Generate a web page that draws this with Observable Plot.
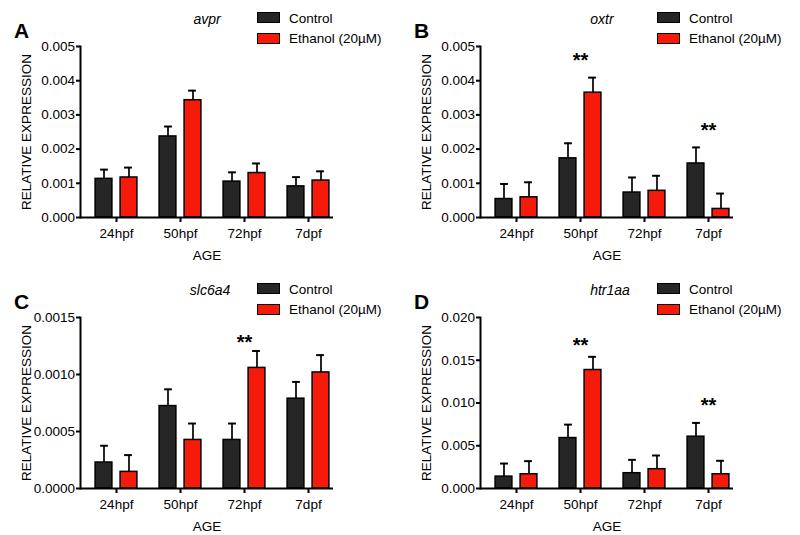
<!DOCTYPE html>
<html><head><meta charset="utf-8">
<script src="https://cdn.jsdelivr.net/npm/d3@7"></script>
<script src="https://cdn.jsdelivr.net/npm/@observablehq/plot@0.6"></script>
<style>
body{margin:0;background:#fff;}
#wrap{position:relative;width:800px;height:535px;font-family:"Liberation Sans",Arial,Helvetica,sans-serif;color:#000;overflow:hidden;}
.panel{position:absolute;width:400px;height:265px;}
.panel svg{position:absolute;left:0;top:0;overflow:visible;}
.letter{position:absolute;font-weight:bold;font-size:21px;line-height:21px;left:14px;top:20px;}
.gene{position:absolute;font-style:italic;font-size:14px;line-height:14px;top:12px;width:100px;text-align:center;}
.sw{position:absolute;left:257px;width:21px;height:9px;border:1.5px solid #000;}
.lt{position:absolute;left:289px;font-size:13.5px;line-height:14px;white-space:nowrap;}
</style></head>
<body><div id="wrap"></div>
<script>
const ages = ["24hpf", "50hpf", "72hpf", "7dpf"];
const seriesNames = ["Control", "Ethanol (20µM)"];
const panelLetters = ["A", "B", "C", "D"];
const genes = ["avpr", "oxtr", "slc6a4", "htr1aa"];

// means and SEM (upper error) per gene
const avprControl = [0.00113, 0.00237, 0.00105, 0.00091];
const avprControlErr = [0.00027, 0.00029, 0.00027, 0.00027];
const avprEthanol = [0.00117, 0.00343, 0.00130, 0.00108];
const avprEthanolErr = [0.00029, 0.00028, 0.00028, 0.00027];

const oxtrControl = [0.00054, 0.00173, 0.00073, 0.00158];
const oxtrControlErr = [0.00044, 0.00044, 0.00044, 0.00047];
const oxtrEthanol = [0.00059, 0.00365, 0.00078, 0.00025];
const oxtrEthanolErr = [0.00044, 0.00044, 0.00044, 0.00045];

const slcControl = [0.000228, 0.000723, 0.000426, 0.000788];
const slcControlErr = [0.000147, 0.000147, 0.000144, 0.000147];
const slcEthanol = [0.000146, 0.000426, 0.001058, 0.001018];
const slcEthanolErr = [0.000147, 0.000144, 0.000148, 0.000152];

const htrControl = [0.00139, 0.00590, 0.00179, 0.00606];
const htrControlErr = [0.00153, 0.00157, 0.00156, 0.00161];
const htrEthanol = [0.00167, 0.01386, 0.00226, 0.00167];
const htrEthanolErr = [0.00153, 0.00154, 0.00160, 0.00157];

// significance markers (age, height of "**")
const oxtrSigAges = ["50hpf", "7dpf"];
const oxtrSigY = [0.00458, 0.00254];
const slcSigAges = ["72hpf"];
const slcSigY = [0.001279];
const htrSigAges = ["50hpf", "7dpf"];
const htrSigY = [0.01676, 0.0097];

// y-axis ticks
const ticksAB = [0, 0.001, 0.002, 0.003, 0.004, 0.005];
const ticksC = [0, 0.0005, 0.0010, 0.0015];
const ticksD = [0, 0.005, 0.010, 0.015, 0.020];

const panels = [
  {ctrl: avprControl, ctrlErr: avprControlErr, eth: avprEthanol, ethErr: avprEthanolErr, sigA: [], sigY: [], ticks: ticksAB, fmt: ".3f", left: 0, top: 0},
  {ctrl: oxtrControl, ctrlErr: oxtrControlErr, eth: oxtrEthanol, ethErr: oxtrEthanolErr, sigA: oxtrSigAges, sigY: oxtrSigY, ticks: ticksAB, fmt: ".3f", left: 400, top: 0},
  {ctrl: slcControl, ctrlErr: slcControlErr, eth: slcEthanol, ethErr: slcEthanolErr, sigA: slcSigAges, sigY: slcSigY, ticks: ticksC, fmt: ".4f", left: 0, top: 271},
  {ctrl: htrControl, ctrlErr: htrControlErr, eth: htrEthanol, ethErr: htrEthanolErr, sigA: htrSigAges, sigY: htrSigY, ticks: ticksD, fmt: ".3f", left: 400, top: 271}
];
const titleCenters = [207, 202, 210, 210];

const colors = {"Control": "#262626", "Ethanol (20µM)": "#f51a0a"};
const wrap = document.getElementById("wrap");

panels.forEach((p, k) => {
  const ctrlRows = ages.map((a, i) => ({age: a, value: p.ctrl[i], top: p.ctrl[i] + p.ctrlErr[i]}));
  const ethRows = ages.map((a, i) => ({age: a, value: p.eth[i], top: p.eth[i] + p.ethErr[i]}));
  const sig = p.sigA.map((a, i) => ({age: a, y: p.sigY[i]}));
  const ymax = p.ticks[p.ticks.length - 1];

  const chart = Plot.plot({
    width: 400, height: 265,
    marginLeft: 80, marginRight: 67, marginTop: 46, marginBottom: 48,
    style: {fontFamily: "'Liberation Sans', Arial, Helvetica, sans-serif", fontSize: "13.5px", color: "#000", background: "transparent"},
    x: {domain: ages, range: [83.6, 340.4], padding: 0, label: null},
    y: {domain: [0, ymax], label: null},
    marks: [
      Plot.ruleX(ctrlRows, {x: "age", y1: "value", y2: "top", dx: -12.5, stroke: "#000", strokeWidth: 1.7}),
      Plot.ruleX(ethRows, {x: "age", y1: "value", y2: "top", dx: 12.5, stroke: "#000", strokeWidth: 1.7}),
      Plot.tickY(ctrlRows, {x: "age", y: "top", insetLeft: 16.1, insetRight: 40.1, stroke: "#000", strokeWidth: 2}),
      Plot.tickY(ethRows, {x: "age", y: "top", insetLeft: 40.1, insetRight: 16.1, stroke: "#000", strokeWidth: 2}),
      Plot.barY(ctrlRows, {x: "age", y: "value", insetLeft: 11.1, insetRight: 36.1, fill: colors["Control"], stroke: "#000", strokeWidth: 1.5}),
      Plot.barY(ethRows, {x: "age", y: "value", insetLeft: 36.1, insetRight: 11.1, fill: colors["Ethanol (20µM)"], stroke: "#000", strokeWidth: 1.5}),
      Plot.text(sig, {x: "age", y: "y", text: () => "**", fontSize: 20, fontWeight: "bold", fill: "#000"}),
      Plot.axisY({ticks: p.ticks, tickFormat: d3.format(p.fmt), tickSize: 4, tickPadding: 1.5, strokeWidth: 2,
        label: "RELATIVE EXPRESSION", labelArrow: "none", labelAnchor: "center", labelOffset: 59}),
      Plot.axisX({tickSize: 5, tickPadding: 6, strokeWidth: 2, label: "AGE", labelArrow: "none", labelAnchor: "center", labelOffset: 42}),
      Plot.ruleY([0], {stroke: "#000", strokeWidth: 2}),
      Plot.frame({anchor: "left", stroke: "#000", strokeWidth: 2})
    ]
  });

  const div = document.createElement("div");
  div.className = "panel";
  div.style.left = p.left + "px";
  div.style.top = p.top + "px";
  div.appendChild(chart);

  const letter = document.createElement("div");
  letter.className = "letter";
  letter.textContent = panelLetters[k];
  div.appendChild(letter);

  const gene = document.createElement("div");
  gene.className = "gene";
  gene.style.left = (titleCenters[k] - 50) + "px";
  gene.textContent = genes[k];
  div.appendChild(gene);

  seriesNames.forEach((s, j) => {
    const sw = document.createElement("div");
    sw.className = "sw";
    sw.style.top = (12 + j * 21) + "px";
    sw.style.background = colors[s];
    div.appendChild(sw);
    const lt = document.createElement("div");
    lt.className = "lt";
    lt.style.top = (11.5 + j * 20.5) + "px";
    lt.textContent = s;
    div.appendChild(lt);
  });

  wrap.appendChild(div);
});
</script>
</body></html>
